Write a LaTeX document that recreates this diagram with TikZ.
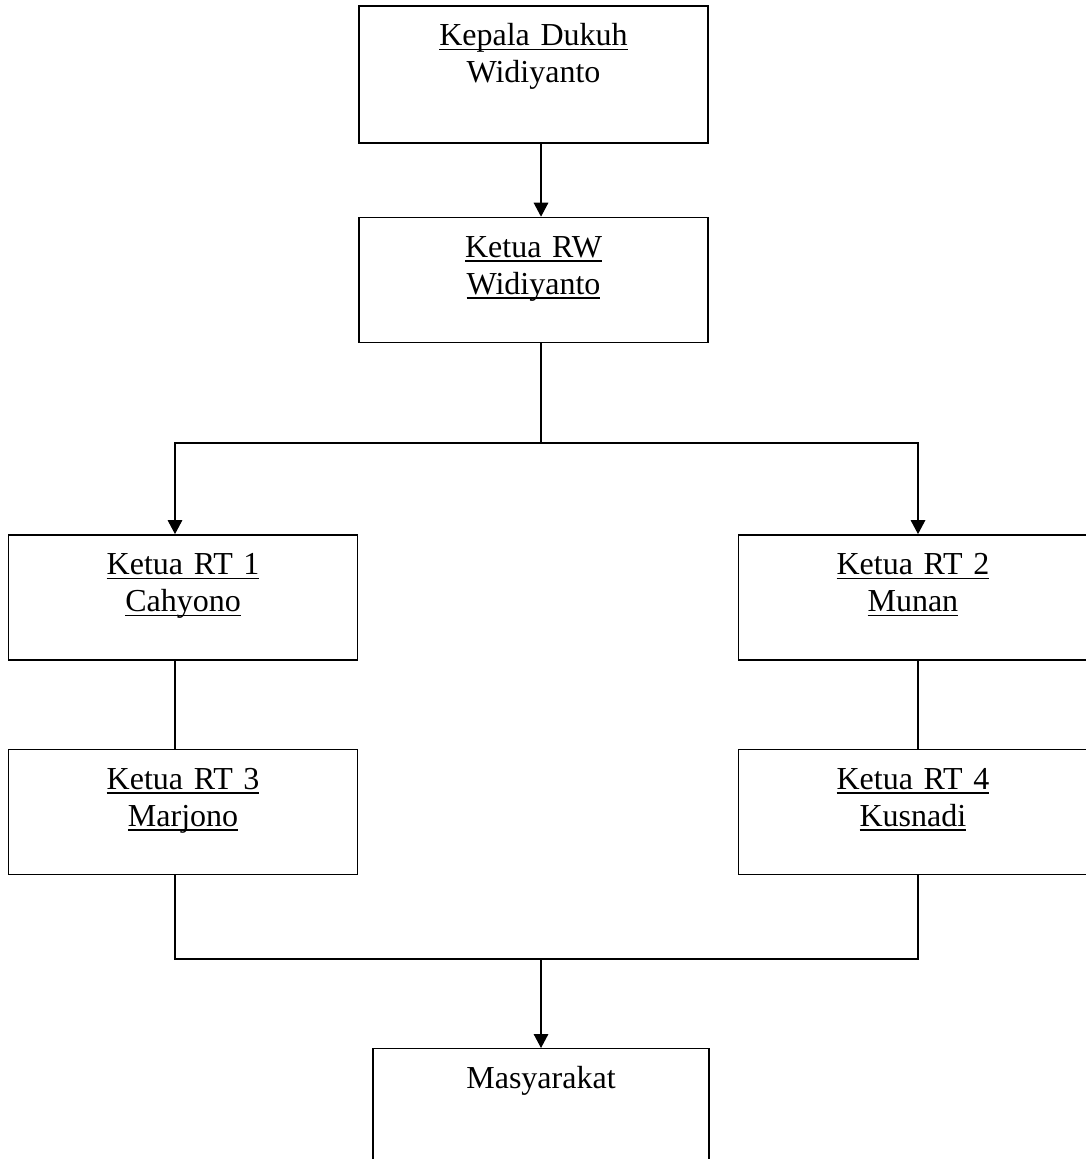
\documentclass[tikz,border=0pt]{standalone}
\usepackage{fontspec}
\setmainfont{Liberation Serif}
\usepackage{tikz}
\usetikzlibrary{arrows.meta,positioning}
\newsavebox\undlbox
\newcommand{\undl}[1]{\leavevmode\sbox\undlbox{#1}\rlap{\rule[-2.2pt]{\wd\undlbox}{0.65pt}}\usebox\undlbox}
\tikzset{
  org/box/.style={draw, line width=0.7pt, inner sep=0pt, text width=174.5pt, align=center,
    text height=20pt, text depth=42.5pt, font=\fontsize{16}{18.5}\selectfont},
  org/line/.style={line width=0.6pt},
  org/arrow/.style={org/line, -{Triangle[length=7pt,width=7.3pt]}}
}

\begin{document}
\begin{tikzpicture}[x=0.5pt, y=-0.5pt]
\useasboundingbox (0,0) rectangle (1085,1159);

% --- Kepala Dukuh + Ketua RW ---
\node[org/box, text depth=48.5pt] (kadus) at (533.5,74.5) {\undl{Kepala Dukuh}\\Widiyanto};
\node[org/box, below=36.5pt of kadus] (rw) {\undl{Ketua RW}\\\undl{Widiyanto}};

% --- Ketua RT 1..4 ---
\node[org/box, below left=95.5pt and 0pt of rw] (rt1) {\undl{Ketua RT 1}\\\undl{Cahyono}};
\node[org/box, below right=95.5pt and 14.5pt of rw] (rt2) {\undl{Ketua RT 2}\\\undl{Munan}};
\node[org/box, below=44pt of rt1] (rt3) {\undl{Ketua RT 3}\\\undl{Marjono}};
\node[org/box, below=44pt of rt2] (rt4) {\undl{Ketua RT 4}\\\undl{Kusnadi}};

% connector points
\coordinate (bus) at (541,443);
\coordinate (lx) at (175,0);
\coordinate (rx) at (918,0);
\coordinate (join) at (541,959);

% --- Masyarakat ---
\node[org/box, text width=168pt, below=44.5pt of join] (mas) {Masyarakat};

% --- connectors ---
\draw[org/arrow] (kadus.south -| bus) -- (rw.north -| bus);
\draw[org/arrow] (rw.south -| bus) -- (bus) -| (rt1.north -| lx);
\draw[org/arrow] (bus) -| (rt2.north -| rx);
\draw[org/line] (rt1.south -| lx) -- (rt3.north -| lx);
\draw[org/line] (rt2.south -| rx) -- (rt4.north -| rx);
\draw[org/line] (rt3.south -| lx) |- (join) -| (rt4.south -| rx);
\draw[org/arrow] (join) -- (mas.north);

\end{tikzpicture}
\end{document}
